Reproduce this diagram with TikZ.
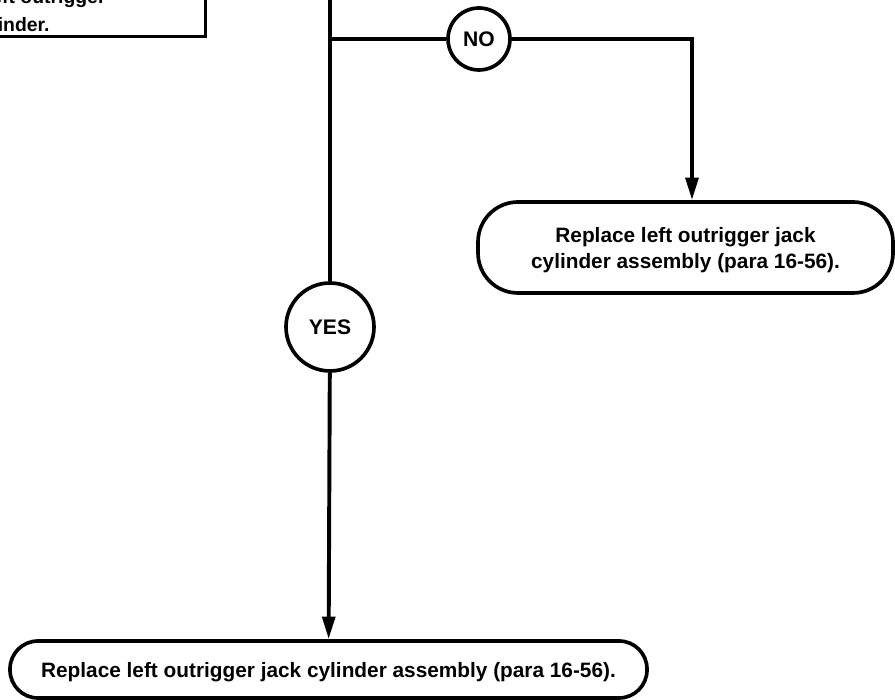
\documentclass[tikz,border=0pt]{standalone}
\usepackage{fontspec}
\setmainfont{Liberation Sans}
\usetikzlibrary{arrows.meta, shapes.geometric}

\begin{document}
\begin{tikzpicture}[
    % Styles
    flow/.style={line width=2.8pt, color=black},
    arrow/.style={
        flow,
        -{Triangle[length=16pt, width=9pt]}
    },
    stepbox/.style={
        rectangle, draw=black, fill=white,
        line width=2.4pt,
        minimum width=10.835cm, inner ysep=3.5pt,
        text depth=0pt,
        font=\fontsize{13.8}{19.8}\selectfont\bfseries,
        align=center
    },
    action/.style={
        rectangle, draw=black, fill=white,
        line width=2.6pt, text depth=0pt,
        font=\fontsize{14.8}{18.5}\selectfont\bfseries,
        align=center
    },
    reply/.style={
        circle, draw=black, fill=white,
        line width=2.6pt, inner sep=0pt,
        font=\fontsize{15}{18}\selectfont\bfseries
    },
]
\useasboundingbox (0,0) rectangle (22.375,17.5);
\clip (0,0) rectangle (22.375,17.5);

% Check box (runs off the sheet)
\node[stepbox, anchor=south east] (check) at (5.175,16.55) {Replace the left outrigger\\jack cylinder.};

% Branch points
\coordinate (top) at (8.25,18.2);
\coordinate (split) at (8.25,16.525);
\coordinate (turn) at (17.3,16.525);

% Answers
\node[reply, minimum size=1.55cm] (no) at (11.975,16.525) {NO};
\node[reply, minimum size=2.2cm] (yes) at (8.25,9.325) {YES};

% Actions
\node[action, rounded corners=1cm, minimum width=10.375cm, minimum height=2.275cm]
    (fixright) at (17.1375,11.3125)
    {Replace left outrigger jack\\cylinder assembly (para 16-56).};
\node[action, rounded corners=0.7cm, minimum width=15.925cm, minimum height=1.425cm]
    (fixbottom) at (8.2125,0.7625)
    {Replace left outrigger jack cylinder assembly (para 16-56).};

% Lines
\draw[flow] (top) -- (yes);
\draw[flow] (split) -- (no);
\draw[arrow] (no) -- (turn) -- (turn |- fixright.north);
\draw[arrow] (yes) -- (fixbottom);

\end{tikzpicture}
\end{document}
